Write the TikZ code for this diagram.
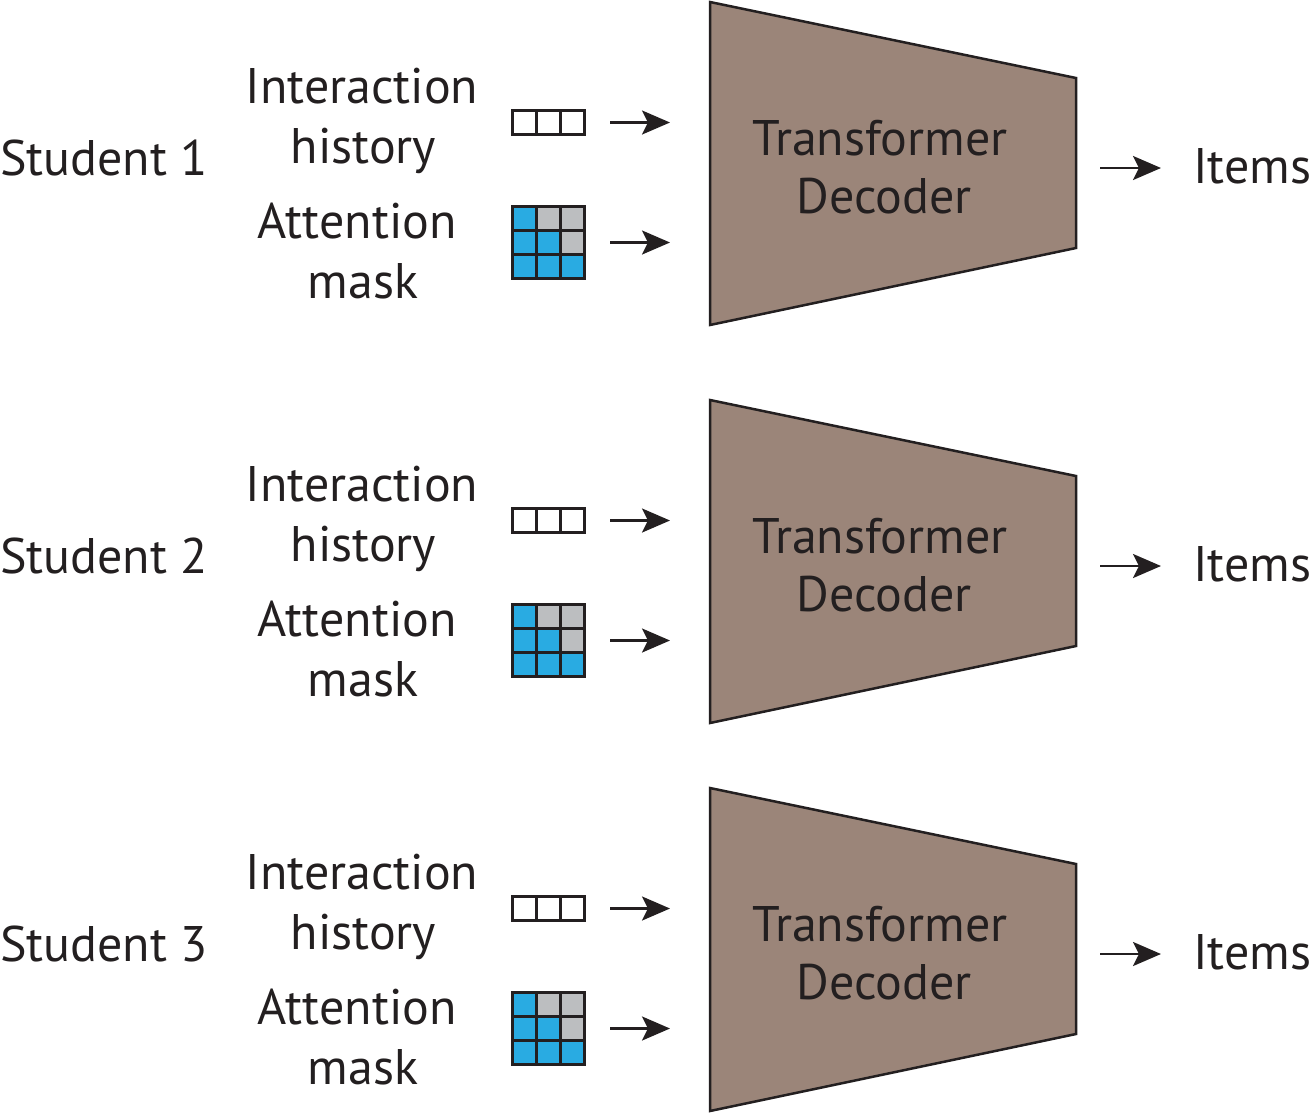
\documentclass[tikz,border=0pt]{standalone}
\usepackage{fontspec}
\setmainfont{PT Sans}
\usetikzlibrary{arrows.meta}
\definecolor{mblue}{RGB}{41,171,226}
\definecolor{mgray}{RGB}{188,190,192}
\definecolor{mbrown}{RGB}{155,133,121}
\definecolor{mtext}{RGB}{35,31,32}
\begin{document}
\begin{tikzpicture}[x=1pt,y=-1pt,
  lbl/.style={font=\fontsize{50}{60}\selectfont, text=mtext, align=center, inner sep=0pt},
  arr/.style={line width=2.8pt, draw=mtext, -{Stealth[length=28pt,width=24pt,inset=6pt]}},
  cell/.style={draw=mtext, line width=3pt, minimum width=24pt, minimum height=24pt, inner sep=0pt, anchor=north west},
  trap/.style={fill=mbrown, draw=mtext, line width=2.5pt, line join=miter}
]
\useasboundingbox (0,0) rectangle (1311,1114);
\foreach \i/\o in {1/0,2/398,3/786}{
  \begin{scope}[yshift=-\o]
  % trapezoid
  \draw[trap] (710,2) -- (1076,78) -- (1076,248) -- (710,325) -- cycle;
  \coordinate (T\i) at (710,163);
  \coordinate (R\i) at (1076,168);
  \node[lbl] (dec\i) at (880,167) {Transformer\\[-2pt]\,Decoder};
  % labels
  \node[lbl, anchor=west] (stu\i) at (0,158) {Student \i};
  \node[lbl] (ih\i) at (362,121) {Interaction\\\hspace*{3pt}history};
  \node[lbl] (am\i) at (357,251) {Attention\\\hspace*{12pt}mask};
  \node[lbl, anchor=west] (it\i) at (1193,166) {Items};
  % history box
  \node[cell, fill=white] (h\i a) at (511,109) {};
  \node[cell, fill=white] (h\i b) at (535,109) {};
  \node[cell, fill=white] (h\i c) at (559,109) {};
  % mask
  \node[cell, fill=mblue] (m\i a) at (511,205) {};
  \node[cell, fill=mgray] (m\i b) at (535,205) {};
  \node[cell, fill=mgray] (m\i c) at (559,205) {};
  \node[cell, fill=mblue] (m\i d) at (511,229) {};
  \node[cell, fill=mblue] (m\i e) at (535,229) {};
  \node[cell, fill=mgray] (m\i f) at (559,229) {};
  \node[cell, fill=mblue] (m\i g) at (511,253) {};
  \node[cell, fill=mblue] (m\i h) at (535,253) {};
  \node[cell, fill=mblue] (m\i i) at (559,253) {};
  % arrows
  \draw[arr] ([xshift=24pt]h\i c.east) -- ([xshift=-40pt]T\i |- h\i c.east);
  \draw[arr] ([xshift=24pt]m\i f.east) -- ([xshift=-40pt]T\i |- m\i f.east);
  \draw[arr] ([xshift=24pt]R\i) -- ([xshift=-32pt]it\i.west |- R\i);
  \end{scope}
}
\end{tikzpicture}
\end{document}
